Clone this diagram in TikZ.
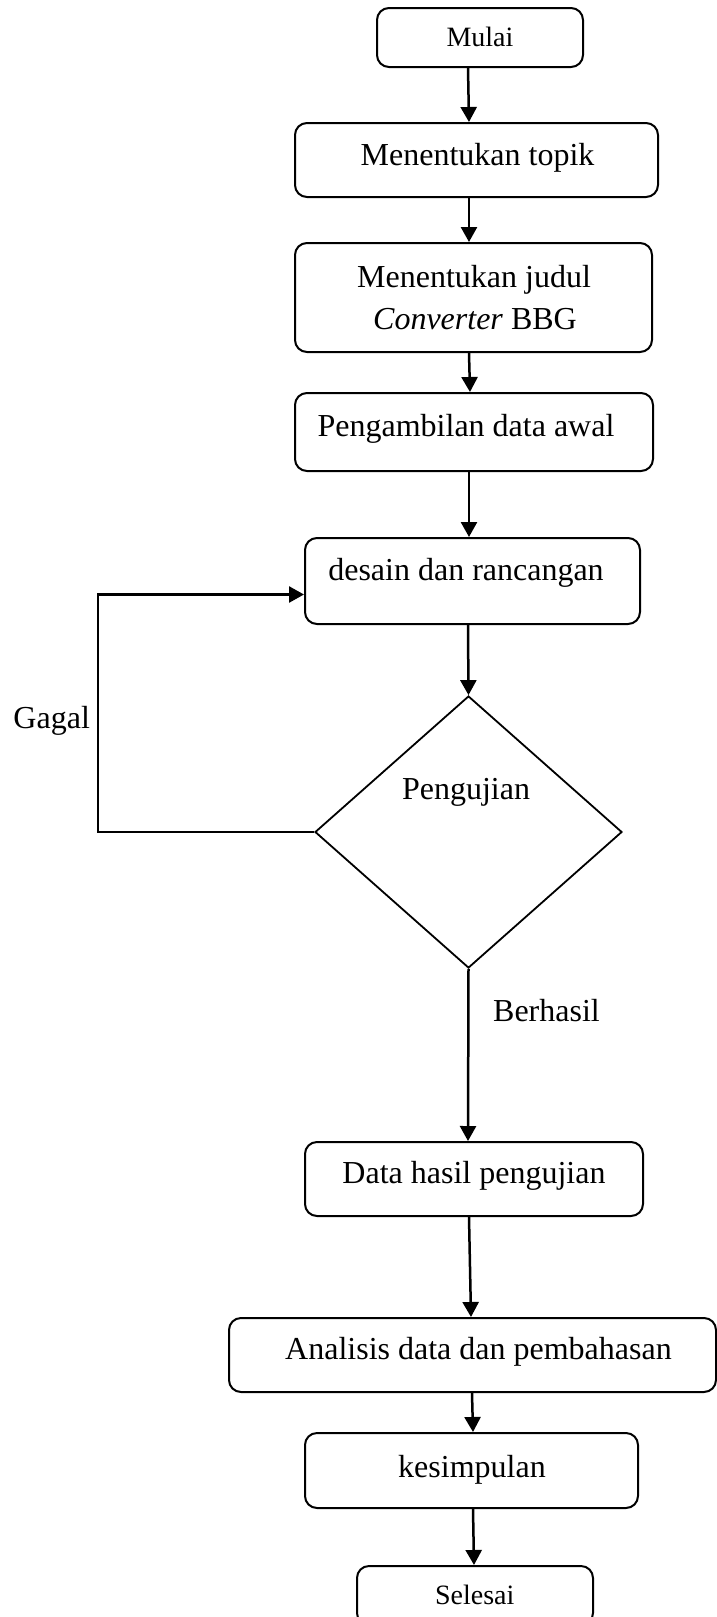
\documentclass[tikz,border=0pt]{standalone}
\usepackage{fontspec}
\setmainfont{Liberation Serif}
\usetikzlibrary{shapes.geometric,arrows.meta}
\begin{document}
\begin{tikzpicture}[x=1pt,y=-1pt,
  box/.style={draw,line width=2pt,rounded corners=12pt,inner sep=0pt},
  txt/.style={anchor=base,inner sep=0pt,font=\fontsize{32}{37}\selectfont},
  smalltxt/.style={anchor=base,inner sep=0pt,font=\fontsize{28}{32}\selectfont},
  arr/.style={line width=2.5pt,-{Triangle[length=15pt,width=16pt]}}]
\useasboundingbox[fill=white] (0,0) rectangle (717,1617);
% boxes
\node[box,minimum width=206pt,minimum height=59pt] (mulai) at (480,37.5) {};
\node[box,minimum width=363pt,minimum height=74pt] (topik) at (476.5,160) {};
\node[box,minimum width=357pt,minimum height=109pt] (judul) at (473.5,297.5) {};
\node[box,minimum width=358pt,minimum height=78pt] (ambil) at (474,432) {};
\node[box,minimum width=335pt,minimum height=86pt] (desain) at (472.5,581) {};
\node[draw,diamond,line width=1.8pt,inner sep=0pt,minimum width=307pt,minimum height=272pt] (diam) at (468.5,832) {};
\node[box,minimum width=338pt,minimum height=74pt] (data) at (474,1179) {};
\node[box,minimum width=487pt,minimum height=74pt] (anal) at (472.5,1355) {};
\node[box,minimum width=333pt,minimum height=75pt] (kesim) at (471.5,1470.5) {};
\node[box,minimum width=236pt,minimum height=59pt] (sel) at (475,1595.5) {};
% texts
\node[smalltxt] (tmulai) at (480,46.7) {Mulai};
\node[txt] (ttopik) at (477.5,165.7) {Menentukan topik};
\node[txt] (tjudul1) at (474,287) {Menentukan judul};
\node[txt] (tjudul2) at (475,329) {\textit{Converter} BBG};
\node[txt] (tambil) at (466,436.7) {Pengambilan data awal};
\node[txt] (tdesain) at (466,580.7) {desain dan rancangan};
\node[txt] (tuji) at (466,799.3) {Pengujian};
\node[txt] (tgagal) at (51.7,728) {Gagal};
\node[txt] (tberhasil) at (546.5,1021.7) {Berhasil};
\node[txt] (tdata) at (474,1183) {Data hasil pengujian};
\node[txt] (tanal) at (478.5,1359) {Analisis data dan pembahasan};
\node[txt] (tkesim) at (472,1477) {kesimpulan};
\node[smalltxt] (tsel) at (474.7,1604) {Selesai};
% connectors
\draw[arr] ([xshift=-12pt]mulai.south) -- ([xshift=-7.5pt]topik.north);
\draw[arr] ([xshift=-7.5pt]topik.south) -- ([xshift=-4.5pt]judul.north);
\draw[arr] ([xshift=-4.5pt]judul.south) -- ([xshift=-4pt]ambil.north);
\draw[arr] ([xshift=-5pt]ambil.south) -- ([xshift=-3.5pt]desain.north);
\draw[arr] ([xshift=-4.5pt]desain.south) -- (diam.north);
\draw[arr] (diam.south) -- ([xshift=-6pt]data.north);
\draw[arr] ([xshift=-5pt]data.south) -- ([xshift=-1.5pt]anal.north);
\draw[arr] ([xshift=-0.5pt]anal.south) -- ([xshift=1.5pt]kesim.north);
\draw[arr] ([xshift=1.5pt]kesim.south) -- ([xshift=-1pt]sel.north);
\draw[arr] (diam.west) -- ++(-216,0) |- ([yshift=-13.5pt]desain.west);
\end{tikzpicture}
\end{document}
